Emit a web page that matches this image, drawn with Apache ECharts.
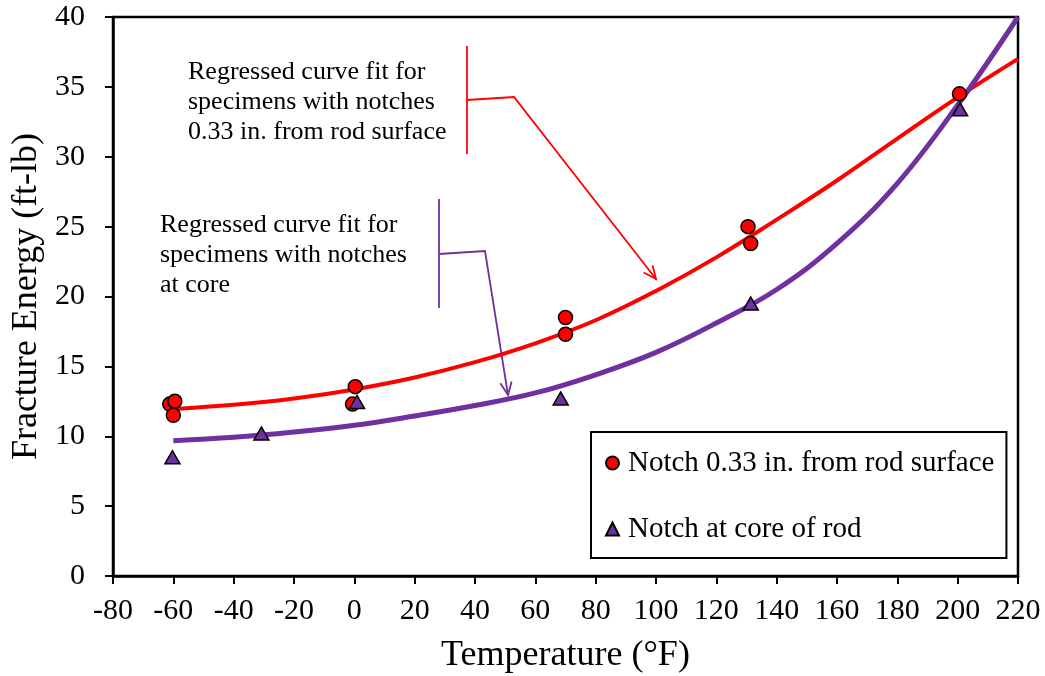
<!DOCTYPE html>
<html>
<head>
<meta charset="utf-8">
<script src="https://cdn.jsdelivr.net/npm/echarts@6/dist/echarts.min.js"></script>
<style>
html,body{margin:0;padding:0;background:#fff;}
#c{width:1045px;height:676px;}
</style>
</head>
<body>
<div id="c"></div>
<script>
// ---- Data ----
const surfaceTemp = [-61.2, -59.5, -60, -0.6, 0.3, 70, 70, 130.5, 131.4, 200.6];
const surfaceEnergy = [12.3, 12.5, 11.5, 12.3, 13.55, 18.5, 17.3, 25.0, 23.8, 34.5];
const coreTemp = [-60.3, -30.8, 0.9, 68.4, 131.4, 200.8];
const coreEnergy = [8.5, 10.2, 12.45, 12.7, 19.5, 33.4];

const fitTemp = [-60, -40, -20, 0, 20, 40, 60, 80, 100, 120, 140, 160, 180, 200, 220];
const surfaceFit = [11.95, 12.25, 12.7, 13.35, 14.2, 15.3, 16.65, 18.3, 20.4, 22.8, 25.5, 28.3, 31.3, 34.25, 37.0];
const coreFit = [9.68, 9.92, 10.3, 10.78, 11.45, 12.2, 13.1, 14.4, 16.0, 18.1, 20.5, 23.8, 28.1, 33.7, 40.0];

const xTicks = [-80, 220, 20];
const yTicks = [0, 40, 5];

const surfaceName = 'Notch 0.33 in. from rod surface';
const coreName = 'Notch at core of rod';
const annotSurface = 'Regressed curve fit for\nspecimens with notches\n0.33 in. from rod surface';
const annotCore = 'Regressed curve fit for\nspecimens with notches\nat core';

// ---- Build ----
const RED = '#FF0000';
const PURPLE = '#7030A0';
const SERIF = "'Liberation Serif','Times New Roman',Times,serif";

function zip(a, b) { return a.map((v, i) => [v, b[i]]); }

function arrowHead(sx, sy, tx, ty, color, len, ang) {
  const a = Math.atan2(ty - sy, tx - sx);
  const p1 = [tx - len * Math.cos(a - ang), ty - len * Math.sin(a - ang)];
  const p2 = [tx - len * Math.cos(a + ang), ty - len * Math.sin(a + ang)];
  return {
    type: 'polyline', silent: true,
    shape: { points: [p1, [tx, ty], p2] },
    style: { stroke: color, lineWidth: 1.8, fill: null }
  };
}

const chart = echarts.init(document.getElementById('c'), null, { renderer: 'canvas' });

const option = {
  backgroundColor: '#ffffff',
  animation: false,
  grid: {
    left: 113, right: 27, top: 17, bottom: 100,
    show: true, borderColor: '#000', borderWidth: 2.5,
    containLabel: false, outerBoundsMode: 'none'
  },
  xAxis: {
    type: 'value', min: xTicks[0], max: xTicks[1], interval: xTicks[2],
    name: 'Temperature (°F)', nameLocation: 'middle', nameGap: 62,
    nameTextStyle: { fontFamily: SERIF, fontSize: 36, color: '#000' },
    axisLine: { show: true, onZero: false, lineStyle: { color: '#000', width: 2.5 } },
    axisTick: { show: true, inside: false, length: 8, lineStyle: { color: '#000', width: 2 } },
    axisLabel: { fontFamily: SERIF, fontSize: 30, color: '#000', margin: 20 },
    splitLine: { show: false }
  },
  yAxis: {
    type: 'value', min: yTicks[0], max: yTicks[1], interval: yTicks[2],
    name: 'Fracture Energy (ft-lb)', nameLocation: 'middle', nameGap: 67,
    nameTextStyle: { fontFamily: SERIF, fontSize: 36, color: '#000' },
    axisLine: { show: true, onZero: false, lineStyle: { color: '#000', width: 2.5 } },
    axisTick: { show: true, inside: false, length: 8, lineStyle: { color: '#000', width: 2 } },
    axisLabel: { fontFamily: SERIF, fontSize: 30, color: '#000', margin: 28 },
    splitLine: { show: false }
  },
  legend: {
    data: [surfaceName, coreName],
    orient: 'vertical', left: 591, top: 432,
    backgroundColor: '#fff',
    borderColor: '#000', borderWidth: 2,
    padding: [16, 12, 14, 14],
    itemGap: 36, itemWidth: 13, itemHeight: 13,
    textStyle: { fontFamily: SERIF, fontSize: 29, color: '#000', lineHeight: 30, padding: [0, 0, 0, 4] }
  },
  series: [
    {
      name: 'surfaceFit', type: 'line', smooth: 0.4, symbol: 'none',
      data: zip(fitTemp, surfaceFit),
      lineStyle: { color: RED, width: 4 }, z: 2
    },
    {
      name: 'coreFit', type: 'line', smooth: 0.4, symbol: 'none',
      data: zip(fitTemp, coreFit),
      lineStyle: { color: PURPLE, width: 5 }, z: 2
    },
    {
      name: surfaceName, type: 'scatter', symbol: 'circle', symbolSize: 14,
      data: zip(surfaceTemp, surfaceEnergy),
      itemStyle: { color: RED, borderColor: '#000', borderWidth: 1.5, opacity: 1 }, z: 3
    },
    {
      name: coreName, type: 'scatter', symbol: 'triangle', symbolSize: [15, 13],
      data: zip(coreTemp, coreEnergy),
      itemStyle: { color: PURPLE, borderColor: '#000', borderWidth: 1.5, opacity: 1 }, z: 3
    }
  ],
  graphic: [
    {
      type: 'text', left: 188, top: 57, silent: true,
      style: { text: annotSurface, fontFamily: SERIF, fontSize: 26, lineHeight: 30, fill: '#000' }
    },
    {
      type: 'text', left: 160, top: 210, silent: true,
      style: { text: annotCore, fontFamily: SERIF, fontSize: 26, lineHeight: 30, fill: '#000' }
    },
    { type: 'line', silent: true, shape: { x1: 467, y1: 46, x2: 467, y2: 154 }, style: { stroke: RED, lineWidth: 1.8 } },
    { type: 'polyline', silent: true, shape: { points: [[467, 100], [514, 97], [656, 279]] }, style: { stroke: RED, lineWidth: 1.8, fill: null } },
    arrowHead(514, 97, 656, 279, RED, 14, 0.42),
    { type: 'line', silent: true, shape: { x1: 439, y1: 199, x2: 439, y2: 308 }, style: { stroke: PURPLE, lineWidth: 1.8 } },
    { type: 'polyline', silent: true, shape: { points: [[439, 254], [485, 251], [508, 395]] }, style: { stroke: PURPLE, lineWidth: 1.8, fill: null } },
    arrowHead(485, 251, 508, 395, PURPLE, 14, 0.42)
  ]
};
chart.setOption(option);
</script>
</body>
</html>
